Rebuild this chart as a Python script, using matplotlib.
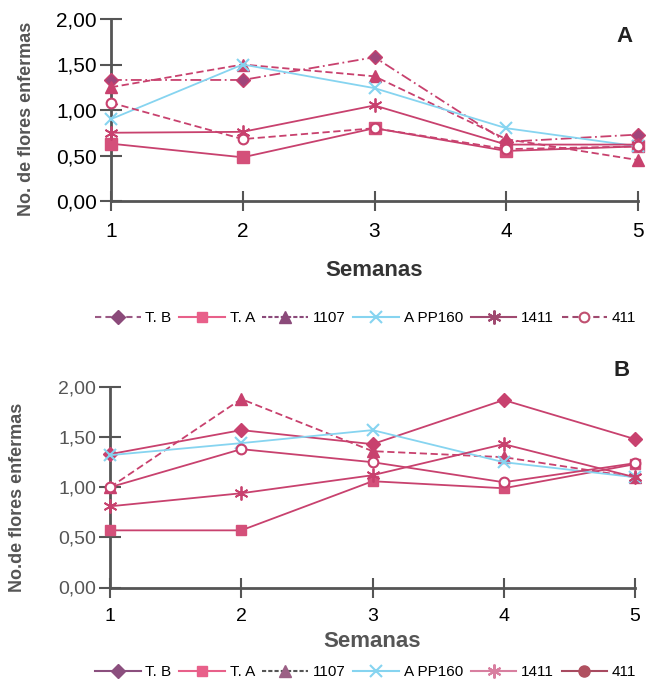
import matplotlib.pyplot as plt
from matplotlib.lines import Line2D

semanas = [1, 2, 3, 4, 5]
series = ["T. B", "T. A", "1107", "APP160", "1411", "411"]
legend_labels = ["T. B", "T. A", "1107", "A PP160", "1411", "411"]

# panel A
a_tb = [1.33, 1.33, 1.58, 0.65, 0.73]
a_ta = [0.63, 0.48, 0.80, 0.55, 0.60]
a_1107 = [1.25, 1.50, 1.37, 0.68, 0.45]
a_app160 = [0.90, 1.50, 1.24, 0.80, 0.60]
a_1411 = [0.75, 0.76, 1.05, 0.62, 0.62]
a_411 = [1.08, 0.68, 0.80, 0.57, 0.60]

# panel B
b_tb = [1.33, 1.57, 1.43, 1.87, 1.48]
b_ta = [0.57, 0.57, 1.06, 0.99, 1.23]
b_1107 = [1.00, 1.88, 1.36, 1.30, 1.10]
b_app160 = [1.32, 1.44, 1.57, 1.25, 1.10]
b_1411 = [0.81, 0.94, 1.12, 1.43, 1.10]
b_411 = [1.00, 1.38, 1.25, 1.05, 1.24]

yticks = [0, 0.5, 1.0, 1.5, 2.0]
yticklabels = ["0,00", "0,50", "1,00", "1,50", "2,00"]

line_c = "#c8416e"
cyan = "#86d4f0"
axis_c = "#555555"

style_a = [
    dict(color=line_c, ls=(0, (6, 2, 1, 2)), marker="D", mfc="#a0457a", mec="#c8416e", ms=7),
    dict(color=line_c, ls="-", marker="s", mfc="#d4507a", mec="#d4507a", ms=8),
    dict(color=line_c, ls=(0, (4, 2)), marker="^", mfc="#c8416e", mec="#c8416e", ms=8),
    dict(color=cyan, ls="-", marker="x", mfc=cyan, mec=cyan, ms=9, mew=1.5),
    dict(color=line_c, ls="-", marker=(6, 2, 0), mfc=line_c, mec=line_c, ms=10, mew=1.3),
    dict(color=line_c, ls=(0, (4, 2)), marker="o", mfc="white", mec="#c8416e", ms=7, mew=1.5),
]
style_b = [
    dict(color=line_c, ls="-", marker="D", mfc="#c8416e", mec="#c8416e", ms=7),
    dict(color=line_c, ls="-", marker="s", mfc="#d4507a", mec="#d4507a", ms=7),
    dict(color=line_c, ls=(0, (4, 2)), marker="^", mfc="#c8416e", mec="#c8416e", ms=8),
    dict(color=cyan, ls="-", marker="x", mfc=cyan, mec=cyan, ms=9, mew=1.5),
    dict(color=line_c, ls="-", marker=(6, 2, 0), mfc=line_c, mec=line_c, ms=10, mew=1.3),
    dict(color=line_c, ls="-", marker="o", mfc="white", mec="#c8416e", ms=7, mew=1.5),
]

leg_a = [
    dict(color="#9b5a85", ls=(0, (3, 2)), marker="D", mfc="#8b4a7a", mec="#8b4a7a", ms=7),
    dict(color="#e8608a", ls="-", marker="s", mfc="#e8608a", mec="#e8608a", ms=7),
    dict(color="#8b4a7a", ls=(0, (2, 1)), marker="^", mfc="#8b4a7a", mec="#8b4a7a", ms=9),
    dict(color=cyan, ls="-", marker="x", mfc=cyan, mec=cyan, ms=9, mew=1.5),
    dict(color="#a04a70", ls="-", marker=(6, 2, 0), mfc="#a04a70", mec="#a04a70", ms=10, mew=1.5),
    dict(color="#a04a70", ls=(0, (3, 2)), marker="o", mfc="white", mec="#c05070", ms=7, mew=1.5),
]
leg_b = [
    dict(color="#8b4f7e", ls="-", marker="D", mfc="#8b4f7e", mec="#8b4f7e", ms=7),
    dict(color="#e8608a", ls="-", marker="s", mfc="#e8608a", mec="#e8608a", ms=7),
    dict(color="#555555", ls=(0, (2, 1)), marker="^", mfc="#9b6085", mec="#9b6085", ms=9),
    dict(color=cyan, ls="-", marker="x", mfc=cyan, mec=cyan, ms=9, mew=1.5),
    dict(color="#d87fa0", ls="-", marker=(6, 2, 0), mfc="#d87fa0", mec="#d87fa0", ms=10, mew=1.5),
    dict(color="#a84a60", ls="-", marker="o", mfc="#b05060", mec="#b05060", ms=8),
]

plt.rcParams['font.family'] = ['Liberation Sans', 'DejaVu Sans']

fig = plt.figure(figsize=(6.49, 6.88), dpi=100)
ax1 = fig.add_axes([111 / 649, 1 - 201 / 688, 527 / 649, 182 / 688])
ax2 = fig.add_axes([110 / 649, 1 - 587.5 / 688, 525 / 649, 200.5 / 688])


def draw(ax, data, styles, legstyles, ylab, letter, letter_y, lab_color, tick_size, ylab_x):
    for vals, st in zip(data, styles):
        ax.plot(semanas, vals, lw=1.3, clip_on=False, zorder=3, **st)
    ax.set_xlim(1, 5)
    ax.set_ylim(0, 2)
    ax.set_xticks(semanas)
    ax.set_yticks(yticks)
    ax.set_yticklabels(yticklabels)
    for s in ["top", "right"]:
        ax.spines[s].set_visible(False)
    for s in ["left", "bottom"]:
        ax.spines[s].set_color(axis_c)
        ax.spines[s].set_linewidth(2)
    ax.tick_params(axis="y", direction="inout", length=16, width=1.5, color=axis_c,
                   labelsize=tick_size, labelcolor=lab_color, pad=2)
    ax.tick_params(axis="x", direction="inout", length=14, width=1.5, color=axis_c,
                   labelsize=tick_size, labelcolor="black", pad=8)
    ax.set_ylabel(ylab, fontsize=13, fontweight="bold", color="#555555")
    ax.yaxis.set_label_coords(ylab_x, 0.45)
    ax.text(0.975, letter_y, letter, transform=ax.transAxes, fontsize=16, fontweight="bold",
            color="#222222", ha="center", va="center")
    return [Line2D([], [], lw=1.5, **st) for st in legstyles]


h1 = draw(ax1, [a_tb, a_ta, a_1107, a_app160, a_1411, a_411], style_a, leg_a,
          "No. de flores enfermas", "A", 0.905, "black", 15, -0.145)
ax1.set_xlabel("Semanas", fontsize=16, fontweight="bold", color="#333333", labelpad=14)
fig.legend(h1, legend_labels, loc="center left", bbox_to_anchor=(95 / 649, 1 - 318 / 688),
           ncol=6, frameon=False, fontsize=11, handlelength=3.0, columnspacing=0.5,
           handletextpad=0.3, borderaxespad=0, borderpad=0)

h2 = draw(ax2, [b_tb, b_ta, b_1107, b_app160, b_1411, b_411], style_b, leg_b,
          "No.de flores enfermas", "B", 1.08, "#555555", 14, -0.16)
ax2.set_xlabel("Semanas", fontsize=16, fontweight="bold", color="#555555", labelpad=4)
fig.legend(h2, legend_labels, loc="center left", bbox_to_anchor=(95 / 649, 1 - 672 / 688),
           ncol=6, frameon=False, fontsize=11, handlelength=3.0, columnspacing=0.5,
           handletextpad=0.3, borderaxespad=0, borderpad=0)

fig.savefig("out.png", dpi=100)
